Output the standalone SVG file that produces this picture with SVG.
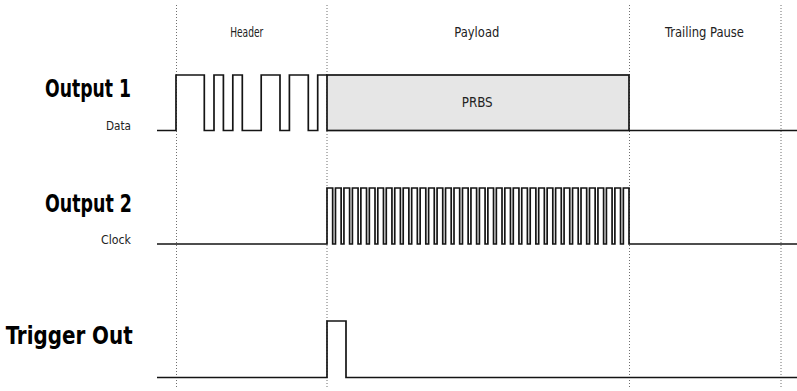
<svg xmlns="http://www.w3.org/2000/svg" width="797" height="391" viewBox="0 0 797 391">
<style>
.grid{stroke:#6f6f6f;stroke-width:1;stroke-dasharray:1 2;fill:none}
.sig{stroke:#141414;stroke-width:1.7;fill:none;stroke-linejoin:miter}
.title{font-family:"Liberation Sans Narrow","DejaVu Sans Condensed","Liberation Sans",sans-serif;font-stretch:condensed;font-weight:bold;font-size:24px;fill:#000;text-anchor:end}
.sub{font-family:"Liberation Sans Narrow","DejaVu Sans Condensed","Liberation Sans",sans-serif;font-stretch:condensed;font-size:12px;fill:#222;text-anchor:end}
.sec{font-family:"Liberation Sans Narrow","DejaVu Sans Condensed","Liberation Sans",sans-serif;font-stretch:condensed;font-size:14px;fill:#222;text-anchor:middle}
</style>
<g id="grid">
<line class="grid" x1="176.5" y1="5" x2="176.5" y2="387"/>
<line class="grid" x1="327" y1="5" x2="327" y2="387"/>
<line class="grid" x1="629.5" y1="5" x2="629.5" y2="387"/>
<line class="grid" x1="781" y1="5" x2="781" y2="387"/>
</g>
<g id="sections">
<text class="sec" x="246.7" y="37" textLength="33" lengthAdjust="spacingAndGlyphs">Header</text>
<text class="sec" x="476.8" y="37" textLength="45" lengthAdjust="spacingAndGlyphs">Payload</text>
<text class="sec" x="704.5" y="37" textLength="79" lengthAdjust="spacingAndGlyphs">Trailing Pause</text>
</g>
<g id="output1">
<text class="title" x="131" y="97" textLength="86" lengthAdjust="spacingAndGlyphs">Output 1</text>
<text class="sub" x="131" y="130" textLength="25" lengthAdjust="spacingAndGlyphs">Data</text>
<path class="sig" d="M157,130.5 H176 V75 H204.3 V130.5 H214 V75 H223.4 V130.5 H232.8 V75 H242.3 V130.5 H261.2 V75 H280 V130.5 H289.4 V75 H308.3 V130.5 H317.7 V75 H327"/>
<rect class="sig" x="327" y="75" width="302" height="55.5" style="fill:#e6e6e6"/>
<text class="sec" x="477.2" y="107" textLength="31" lengthAdjust="spacingAndGlyphs">PRBS</text>
<path class="sig" d="M629,130.5 H797"/>
</g>
<g id="output2">
<text class="title" x="132" y="211.5" textLength="87" lengthAdjust="spacingAndGlyphs">Output 2</text>
<text class="sub" x="131" y="244" textLength="30" lengthAdjust="spacingAndGlyphs">Clock</text>
<path class="sig" d="M157,244 H327 v-56h5.67v56h2.797 v-56h5.67v56h2.797 v-56h5.67v56h2.797 v-56h5.67v56h2.797 v-56h5.67v56h2.797 v-56h5.67v56h2.797 v-56h5.67v56h2.797 v-56h5.67v56h2.797 v-56h5.67v56h2.797 v-56h5.67v56h2.797 v-56h5.67v56h2.797 v-56h5.67v56h2.797 v-56h5.67v56h2.797 v-56h5.67v56h2.797 v-56h5.67v56h2.797 v-56h5.67v56h2.797 v-56h5.67v56h2.797 v-56h5.67v56h2.797 v-56h5.67v56h2.797 v-56h5.67v56h2.797 v-56h5.67v56h2.797 v-56h5.67v56h2.797 v-56h5.67v56h2.797 v-56h5.67v56h2.797 v-56h5.67v56h2.797 v-56h5.67v56h2.797 v-56h5.67v56h2.797 v-56h5.67v56h2.797 v-56h5.67v56h2.797 v-56h5.67v56h2.797 v-56h5.67v56h2.797 v-56h5.67v56h2.797 v-56h5.67v56h2.797 v-56h5.67v56h2.797 v-56h5.67v56h2.797 v-56h5.67v56 H797"/>
</g>
<g id="trigger">
<text class="title" x="132.7" y="344" textLength="127" lengthAdjust="spacingAndGlyphs">Trigger Out</text>
<path class="sig" d="M157,377.5 H327 V321 H346 V377.5 H797"/>
</g>
</svg>
